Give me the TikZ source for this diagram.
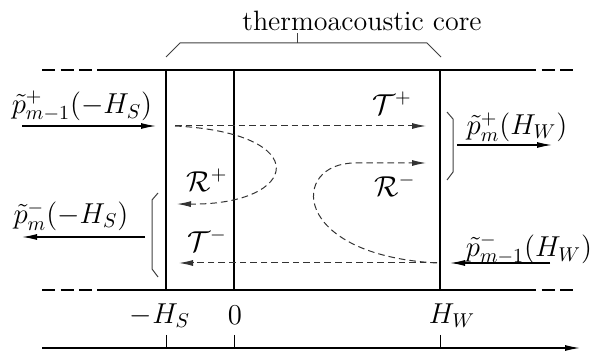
\documentclass[tikz,border=0pt]{standalone}
\usetikzlibrary{arrows.meta}
\begin{document}
\begin{tikzpicture}[x=0.5pt,y=-0.5pt,
  every node/.style={font=\fontsize{14}{16}\selectfont, inner sep=0pt},
  wall/.style={line width=1pt},
  outer/.style={line width=0.8pt, dash pattern=on 6.5pt off 2.8pt},
  wave/.style={line width=0.5pt, black!80, dash pattern=on 3.3pt off 2pt, -{Latex[length=7pt,width=3pt]}},
  feed/.style={line width=0.6pt, -{Latex[length=7.5pt,width=3pt]}},
  brk/.style={line width=0.5pt, black!75}]
\useasboundingbox (0,0) rectangle (593,351);
% coordinates
\coordinate (tl) at (166,70); \coordinate (tm) at (234,70); \coordinate (tr) at (440,70);
\coordinate (bl) at (166,290); \coordinate (bm) at (234,290); \coordinate (br) at (440,290);
\coordinate (tL) at (97,70); \coordinate (tR) at (523,70); \coordinate (tLL) at (42,70); \coordinate (tRR) at (577,70);
\coordinate (bL) at (97,290); \coordinate (bR) at (523,290); \coordinate (bLL) at (42,290); \coordinate (bRR) at (577,290);
% walls
\draw[wall] (tL) -- (tR); \draw[wall] (bL) -- (bR);
\draw[outer] (tLL) -- (tL); \draw[outer] (tR) -- (tRR);
\draw[outer] (bLL) -- (bL); \draw[outer] (bR) -- (bRR);
\draw[wall] (tl) -- (bl); \draw[wall] (tm) -- (bm); \draw[wall] (tr) -- (br);
% top brace
\coordinate (c1) at (166,57); \coordinate (c2) at (180,43); \coordinate (c3) at (427,43); \coordinate (c4) at (441,57);
\coordinate (ct) at (297,43); \coordinate (ctt) at (297,33);
\draw[brk] (c1) -- (c2) -- (c3) -- (c4);
\draw[brk] (ct) -- (ctt);
\node (core) at (362,21) {thermoacoustic core};
% right bracket
\coordinate (r1) at (447,112); \coordinate (r2) at (453,119); \coordinate (r3) at (453,172); \coordinate (r4) at (447,180);
\draw[brk] (r1) -- (r2) -- (r3) -- (r4);
% left bracket
\coordinate (l1) at (158,193); \coordinate (l2) at (152,200); \coordinate (l3) at (152,269); \coordinate (l4) at (158,277);
\draw[brk] (l1) -- (l2) -- (l3) -- (l4);
% incoming/outgoing arrows
\coordinate (a1s) at (22,126); \coordinate (a1e) at (156,126);
\draw[feed] (a1s) -- (a1e);
\node (pin) at (82,106) {$\tilde p^+_{m-1}(-H_S)$};
\coordinate (a2s) at (457,145); \coordinate (a2e) at (552,145);
\draw[feed] (a2s) -- (a2e);
\node (pout) at (517,127) {$\tilde p^+_{m}(H_W)$};
\coordinate (a3s) at (145,237); \coordinate (a3e) at (22,237);
\draw[feed] (a3s) -- (a3e);
\node (mout) at (71,216) {$\tilde p^-_{m}(-H_S)$};
\coordinate (a4s) at (550,263); \coordinate (a4e) at (450,263);
\draw[feed] (a4s) -- (a4e);
\node (min) at (529,249) {$\tilde p^-_{m-1}(H_W)$};
% waves
\coordinate (tps) at (175,126); \coordinate (tpe) at (426,126);
\draw[wave] (tps) -- (tpe);
\node (Tp) at (392,103) {$\mathcal{T}^+$};
\coordinate (tms) at (437,263); \coordinate (tme) at (179,263);
\draw[wave] (tms) -- (tme);
\node (Tm) at (207,240) {$\mathcal{T}^-$};
\coordinate (rpe) at (177,204);
\draw[wave] (tps) .. controls (315,133) and (300,205) .. (rpe);
\node (Rp) at (207,180) {$\mathcal{R}^+$};
\coordinate (rmm) at (355,163); \coordinate (rme) at (426,163);
\draw[wave] (tms) .. controls (290,255) and (290,163) .. (rmm) -- (rme);
\node (Rm) at (395,185) {$\mathcal{R}^-$};
% axis
\coordinate (xs) at (42,348); \coordinate (xe) at (580,348);
\draw[line width=0.6pt, -{Latex[length=7.5pt,width=3pt]}] (xs) -- (xe);
\coordinate (k1) at (166,335); \coordinate (k1b) at (166,348);
\coordinate (k2) at (234,335); \coordinate (k2b) at (234,348);
\coordinate (k3) at (440,335); \coordinate (k3b) at (440,348);
\draw[line width=0.5pt] (k1) -- (k1b) (k2) -- (k2b) (k3) -- (k3b);
\node (lHS) at (160,316) {$-H_S$};
\node (l0) at (235,315) {$0$};
\node (lHW) at (452,316) {$H_W$};
\end{tikzpicture}
\end{document}
